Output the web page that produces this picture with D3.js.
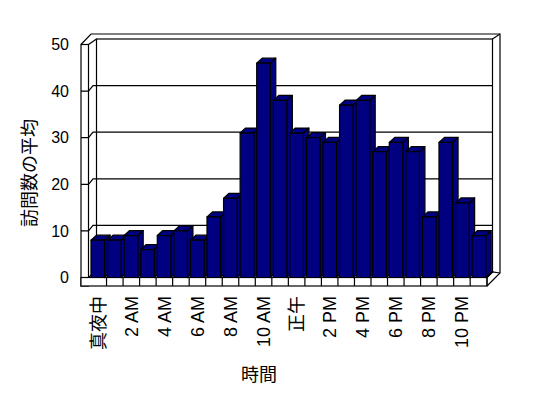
<!DOCTYPE html>
<html>
<head>
  <meta charset="UTF-8">
  <style>
    body { margin: 0; background: #fff; }
    svg { display: block; }
    text { font-family: "Liberation Sans", Arial, "Noto Sans CJK JP", sans-serif; fill: #000; }
  </style>
</head>
<body>
<svg></svg>
<script src="https://d3js.org/d3.v7.min.js"></script>
<script>

let width = 548, height = 398;

// data
let hours = ["真夜中","1 AM","2 AM","3 AM","4 AM","5 AM","6 AM","7 AM","8 AM","9 AM","10 AM","11 AM",
             "正午","1 PM","2 PM","3 PM","4 PM","5 PM","6 PM","7 PM","8 PM","9 PM","10 PM","11 PM"];
let visits = [8,8,9,6,9,10,8,13,17,31,46,38,31,30,29,37,38,27,29,27,13,29,16,9];
let yTicks = [0,10,20,30,40,50];
let yTitle = "訪問数の平均";
let xTitle = "時間";

let svg = d3.select("svg")
    .attr("width", width)
    .attr("height", height);

// front plane scales
let x = d3.scaleBand().domain(hours).range([90, 486.7]).paddingInner(0.18).paddingOuter(0.06);
let cat = d3.scaleBand().domain(hours).range([90, 486.7]);
let y = d3.scaleLinear().domain([0, 50]).range([277.5, 44.5]);

// depth offsets
let dx = 6, dy = -5.5;   // walls / floor
let bx = 5.5, by = -5;   // bars

let line = (g, pts) => g.append("path")
    .attr("d", "M" + pts.map(p => p.join(",")).join("L"))
    .attr("fill", "none").attr("stroke", "#000").attr("stroke-width", 1.2);

let walls = svg.append("g").attr("id", "walls");

// back wall face
walls.append("rect")
    .attr("x", 96.5).attr("y", y(50) + dy)
    .attr("width", 492.5 - 96.5).attr("height", y(0) - y(50))
    .attr("fill", "#fff").attr("stroke", "#000").attr("stroke-width", 1.2);

// outer back wall edge
line(walls, [[81, y(50)], [91, 34], [500, 34], [500, 273], [487, 286]]);
line(walls, [[88.5, y(50)], [96.5, y(50) + dy]]);
line(walls, [[492.5, y(50) + dy], [500, 34]]);

// left wall front face
walls.append("rect")
    .attr("x", 81).attr("y", y(50))
    .attr("width", 7.5).attr("height", 286 - y(50))
    .attr("fill", "#fff").attr("stroke", "#000").attr("stroke-width", 1.2);

// grid lines
yTicks.filter(v => v > 0 && v < 50).forEach(v => {
    line(walls, [[81, y(v)], [88.5, y(v)], [93, y(v) + dy], [492.5, y(v) + dy]]);
});

// floor
walls.append("path")
    .attr("d", "M88.5," + y(0) + "L" + (88.5 + dx) + "," + (y(0) + dy) + "L492.5," + (y(0) + dy) +
               "L487," + y(0) + "Z")
    .attr("fill", "#fff").attr("stroke", "#000").attr("stroke-width", 1.2);
walls.append("rect")
    .attr("x", 81).attr("y", y(0))
    .attr("width", 487 - 81).attr("height", 286 - y(0))
    .attr("fill", "#fff").attr("stroke", "#000").attr("stroke-width", 1.2);
line(walls, [[487, y(0)], [492.5, y(0) + dy], [500, 273]]);
line(walls, [[487, 286], [487, y(0)]]);

walls.selectAll(".div")
    .data(hours.slice(1))
    .enter()
    .append("line")
    .attr("class", "div")
    .attr("x1", d => cat(d)).attr("x2", d => cat(d))
    .attr("y1", y(0)).attr("y2", 286)
    .attr("stroke", "#000").attr("stroke-width", 1.2);

// bars
let bars = svg.append("g").attr("id", "bars")
    .selectAll("g")
    .data(hours.map((h, i) => ({h: h, v: visits[i]})))
    .enter()
    .append("g")
    .attr("fill", "#000080")
    .attr("stroke", "#000")
    .attr("stroke-width", 1.2)
    .attr("stroke-linejoin", "round");

bars.append("path") // side
    .attr("d", d => {
        let x1 = x(d.h) + x.bandwidth();
        return "M" + x1 + "," + y(d.v) + "L" + (x1 + bx) + "," + (y(d.v) + by) +
               "L" + (x1 + bx) + "," + (y(0) + by) + "L" + x1 + "," + y(0) + "Z";
    });
bars.append("path") // top
    .attr("d", d => {
        let x0 = x(d.h), x1 = x0 + x.bandwidth();
        return "M" + x0 + "," + y(d.v) + "L" + (x0 + bx) + "," + (y(d.v) + by) +
               "L" + (x1 + bx) + "," + (y(d.v) + by) + "L" + x1 + "," + y(d.v) + "Z";
    });
bars.append("rect") // front
    .attr("x", d => x(d.h))
    .attr("y", d => y(d.v))
    .attr("width", x.bandwidth())
    .attr("height", d => y(0) - y(d.v));

// y tick labels
svg.append("g")
    .selectAll("text")
    .data(yTicks)
    .enter()
    .append("text")
    .attr("x", 69)
    .attr("y", d => y(d))
    .attr("dy", "0.36em")
    .attr("text-anchor", "end")
    .attr("font-size", "16px")
    .text(d => d);

// x tick labels, every other hour
svg.append("g")
    .selectAll("text")
    .data(hours.filter((h, i) => i % 2 == 0))
    .enter()
    .append("text")
    .attr("transform", d => "translate(" + (cat(d) + cat.bandwidth() / 2) + ",296) rotate(-90)")
    .attr("dy", "0.36em")
    .attr("text-anchor", "end")
    .attr("font-size", "18px")
    .text(d => d);

// axis titles
svg.append("text")
    .attr("transform", "translate(30,173) rotate(-90)")
    .attr("dy", "0.36em")
    .attr("text-anchor", "middle")
    .attr("font-size", "18px")
    .text(yTitle);

svg.append("text")
    .attr("x", 259)
    .attr("y", 375)
    .attr("dy", "0.36em")
    .attr("text-anchor", "middle")
    .attr("font-size", "18px")
    .text(xTitle);

</script>
</body>
</html>
